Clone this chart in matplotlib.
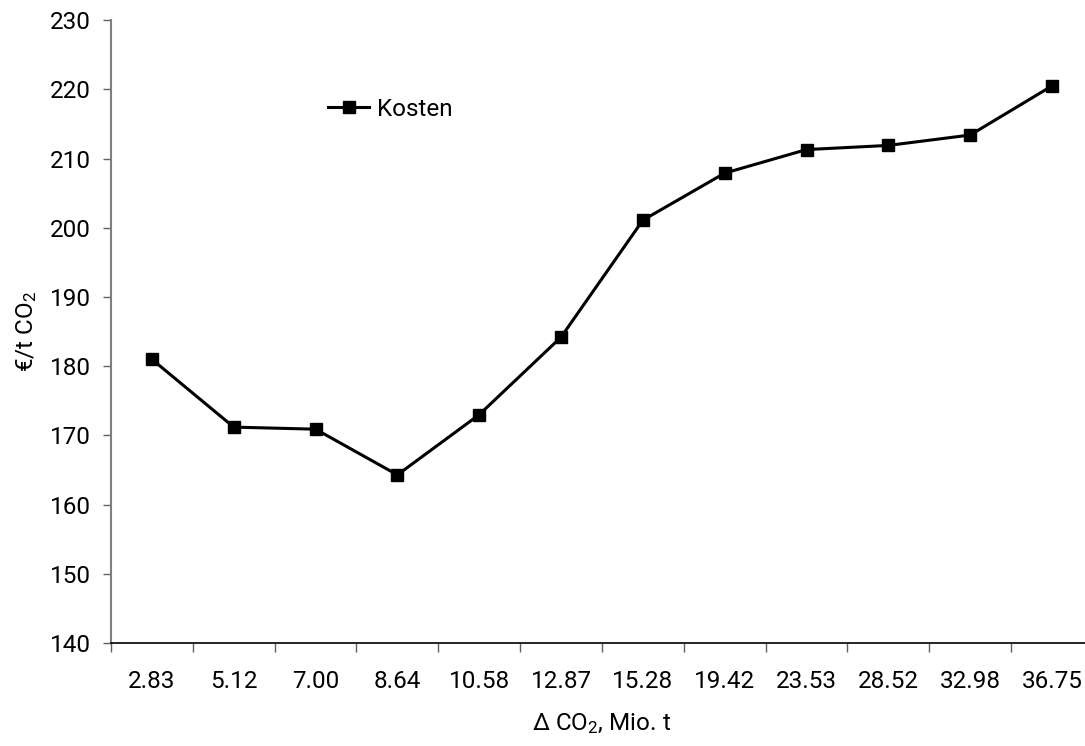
import matplotlib
matplotlib.use('Agg')
import matplotlib.pyplot as plt
import numpy as np

# Daten
categories = ['2.83', '5.12', '7.00', '8.64', '10.58', '12.87', '15.28',
              '19.42', '23.53', '28.52', '32.98', '36.75']
kosten = [181.0, 171.2, 170.9, 164.3, 173.0, 184.2, 201.1,
          207.9, 211.3, 211.9, 213.4, 220.5]
y_ticks = [140, 150, 160, 170, 180, 190, 200, 210, 220, 230]

plt.rcParams['font.family'] = ['Roboto', 'DejaVu Sans']
plt.rcParams['mathtext.default'] = 'regular'
plt.rcParams['mathtext.fontset'] = 'custom'
plt.rcParams['mathtext.rm'] = 'Roboto'

fig = plt.figure(figsize=(10.85, 7.46), dpi=100)
# Achse läuft rechts über den Bildrand hinaus (wie im Original)
ax = fig.add_axes([0.1023, 0.138, 0.905, 0.835])

x = np.arange(len(categories))
ax.plot(x, kosten, color='black', linewidth=2.2, marker='s', markersize=9,
        label='Kosten')

ax.set_xlim(-0.5, len(categories) - 0.5)
ax.set_ylim(140, 230)
ax.set_yticks(y_ticks)
ax.set_xticks(x)
ax.set_xticklabels(categories)
ax.set_xticks(np.arange(len(categories) + 1) - 0.5, minor=True)

ax.tick_params(axis='x', which='major', length=0, pad=19.5, labelsize=17.5)
ax.tick_params(axis='x', which='minor', length=6.5, direction='out', width=1,
               color='#606060')
ax.tick_params(axis='y', length=5.5, direction='out', width=1, color='#606060',
               labelsize=17.5, pad=9)

for s in ['top', 'right']:
    ax.spines[s].set_visible(False)
ax.spines['left'].set_color('#808080')
ax.spines['left'].set_linewidth(1.5)
ax.spines['bottom'].set_color('black')
ax.spines['bottom'].set_linewidth(1.2)

ax.set_xlabel('Δ CO$_2$, Mio. t', fontsize=17.5, labelpad=13)
ax.set_ylabel('€/t CO$_2$', fontsize=17.5, labelpad=8)

ax.legend(loc='center left', bbox_to_anchor=(0.221, 0.857), frameon=False,
          fontsize=17.5, handlelength=1.7, handletextpad=0.3,
          borderpad=0, borderaxespad=0)

fig.savefig('out.png', dpi=100)
